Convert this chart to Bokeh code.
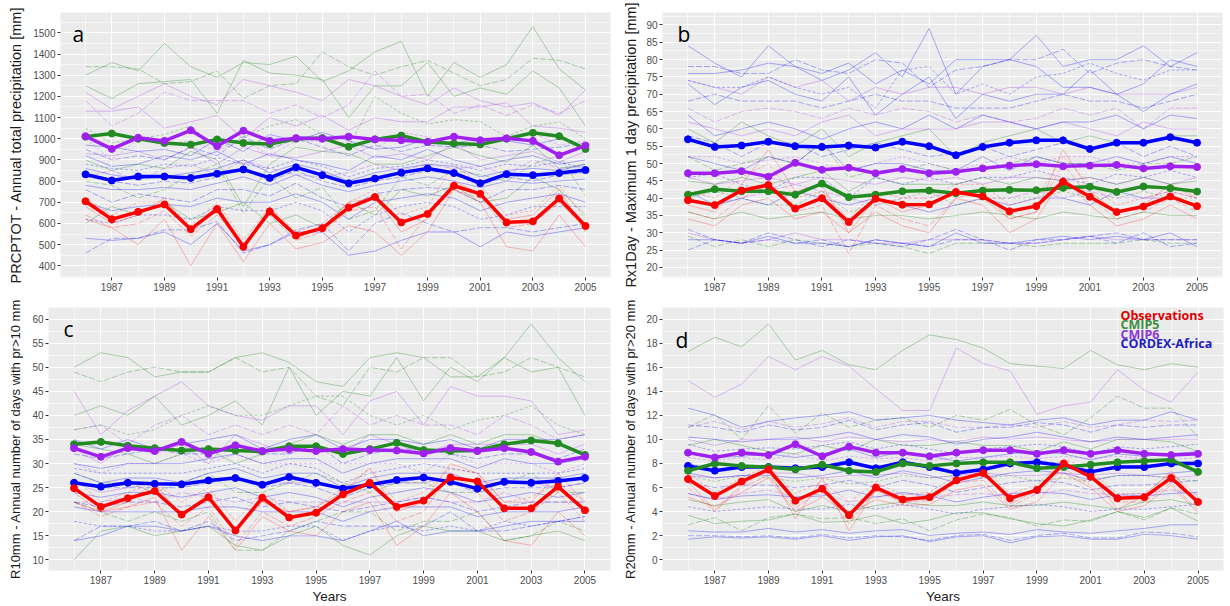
from bokeh.plotting import figure
from bokeh.models import FixedTicker, SingleIntervalTicker, Range1d, Label
from bokeh.layouts import column, row
from bokeh.embed import file_html
from bokeh.resources import INLINE

YEARS = list(range(1986, 2006))
X_TICKS = list(range(1987, 2006, 2))
X_MINOR = list(range(1986, 2007))

SERIES = ["Observations", "CMIP5", "CMIP6", "CORDEX-Africa"]

# ---------------- Panel a : PRCPTOT ----------------
A_OBS = [705, 620, 655, 690, 573, 668, 490, 657, 543, 578, 675, 725, 605, 645, 778, 740, 605, 610, 718, 588]
A_CMIP5 = [1010, 1025, 1000, 980, 972, 997, 980, 975, 1000, 1003, 962, 997, 1015, 985, 978, 973, 1000, 1028, 1012, 952]
A_CMIP6 = [1012, 952, 1005, 990, 1040, 965, 1038, 990, 1003, 1000, 1010, 997, 993, 985, 1010, 993, 1002, 990, 922, 968]
A_CORDEX = [832, 803, 822, 822, 815, 835, 855, 815, 865, 828, 790, 812, 840, 860, 838, 790, 833, 828, 838, 852]

A_OBS_M = [
    [680, 600, 640, 720, 560, 690, 470, 680, 530, 580, 700, 720, 560, 620, 800, 740, 620, 640, 760, 560],
    [640, 580, 600, 660, 540, 640, 500, 640, 520, 560, 660, 680, 480, 640, 760, 720, 580, 600, 700, 580],
    [620, 580, 500, 620, 400, 600, 420, 600, 480, 510, 590, 560, 450, 560, 760, 700, 490, 470, 640, 490],
    [720, 640, 700, 700, 590, 700, 520, 680, 560, 600, 700, 760, 640, 680, 880, 780, 640, 660, 780, 620],
]
A_CMIP5_M = [
    [1300, 1360, 1320, 1450, 1340, 1290, 1360, 1350, 1390, 1270, 1320, 1410, 1460, 1200, 1360, 1290, 1350, 1530, 1330, 1230],
    [1340, 1340, 1330, 1260, 1270, 1320, 1190, 1250, 1260, 1410, 1340, 1300, 1340, 1370, 1310, 1250, 1280, 1380, 1370, 1330],
    [1250, 1190, 1260, 1270, 1280, 1120, 1370, 1310, 1300, 1280, 1100, 1250, 1250, 1360, 1200, 1240, 1210, 1320, 1240, 1060],
    [1050, 980, 1000, 1020, 1060, 950, 1010, 1060, 1090, 1020, 960, 1200, 1120, 1070, 1090, 1080, 1010, 1060, 1080, 1000],
    [900, 850, 880, 860, 940, 900, 680, 880, 960, 940, 930, 880, 880, 920, 960, 920, 890, 970, 860, 880],
    [800, 780, 720, 760, 830, 880, 650, 820, 720, 770, 620, 660, 820, 780, 850, 830, 800, 880, 920, 730],
    [600, 680, 640, 700, 620, 650, 700, 600, 640, 580, 700, 640, 760, 730, 780, 700, 720, 820, 760, 640],
]
A_CMIP6_M = [
    [1220, 1140, 1200, 1260, 1200, 1160, 1280, 1250, 1220, 1180, 1280, 1250, 1200, 1160, 1240, 1180, 1150, 1170, 1110, 1230],
    [1180, 1060, 1120, 1220, 1180, 1180, 1180, 1120, 1160, 1100, 1160, 1320, 1200, 1210, 1120, 1160, 1110, 1160, 1120, 1180],
    [1130, 1130, 1150, 1050, 1080, 1110, 1000, 1100, 1060, 1110, 1040, 1100, 1080, 1080, 1150, 1150, 1170, 1060, 1050, 1030],
    [1000, 900, 1000, 970, 990, 940, 1000, 920, 990, 990, 980, 950, 1030, 1010, 960, 1000, 1010, 1030, 970, 990],
    [930, 920, 940, 900, 960, 880, 960, 920, 910, 940, 970, 910, 930, 900, 980, 900, 920, 940, 890, 940],
    [820, 850, 800, 860, 880, 830, 900, 860, 830, 820, 840, 880, 850, 880, 860, 870, 830, 900, 860, 870],
]
A_CORDEX_M = [
    [970, 960, 940, 950, 920, 1000, 940, 1020, 990, 1030, 990, 950, 960, 1000, 980, 1000, 990, 970, 1000, 960],
    [950, 900, 920, 900, 960, 920, 1010, 950, 1000, 960, 920, 970, 940, 970, 960, 970, 940, 950, 960, 980],
    [920, 870, 880, 920, 900, 940, 880, 930, 900, 880, 850, 920, 900, 950, 900, 870, 900, 920, 880, 900],
    [880, 860, 850, 880, 870, 910, 880, 860, 900, 870, 820, 860, 870, 900, 880, 850, 880, 870, 890, 860],
    [860, 830, 810, 820, 840, 860, 900, 840, 880, 850, 800, 840, 860, 880, 870, 820, 850, 860, 850, 880],
    [820, 800, 780, 800, 790, 820, 860, 800, 850, 800, 770, 800, 820, 850, 830, 780, 820, 800, 830, 840],
    [780, 760, 760, 770, 760, 790, 820, 780, 830, 780, 750, 780, 800, 820, 800, 770, 800, 790, 800, 810],
    [760, 700, 740, 720, 700, 760, 760, 730, 790, 720, 680, 740, 760, 770, 760, 700, 760, 760, 780, 760],
    [700, 660, 680, 690, 680, 720, 700, 700, 740, 700, 620, 700, 720, 740, 720, 660, 700, 720, 740, 700],
    [620, 600, 640, 640, 620, 680, 660, 660, 700, 660, 560, 640, 680, 700, 680, 620, 640, 680, 680, 680],
    [530, 520, 530, 560, 500, 600, 470, 500, 560, 560, 450, 470, 520, 560, 560, 490, 560, 540, 560, 580],
    [460, 530, 530, 570, 570, 610, 460, 500, 570, 600, 470, 600, 650, 600, 560, 580, 580, 560, 580, 600],
]

# ---------------- Panel b : Rx1Day ----------------
B_OBS = [39.4, 38, 42.2, 43.8, 37, 40, 33.1, 39.8, 38.1, 38.2, 41.8, 40.5, 36.2, 37.7, 44.8, 40.4, 36, 37.6, 40.5, 37.7]
B_CMIP5 = [41, 42.6, 42, 42, 41, 44.2, 40.3, 41, 42, 42.2, 41.4, 42.2, 42.4, 42.3, 43, 43.3, 41.8, 43.4, 42.9, 41.9]
B_CMIP6 = [47.2, 47.2, 47.8, 46.2, 50.2, 48.2, 48.8, 47.2, 48.4, 47.2, 47.6, 48.6, 49.4, 49.8, 49.2, 49.4, 49.6, 48.6, 49.2, 49]
B_CORDEX = [57, 54.8, 55.2, 56.3, 55, 54.8, 55.2, 54.6, 56.3, 55, 52.4, 54.8, 56, 56.7, 56.7, 54.2, 56, 56, 57.6, 56]

B_OBS_M = [
    [38, 36, 44, 54, 42, 44, 30, 40, 36, 38, 42, 40, 34, 36, 54, 42, 36, 38, 44, 40],
    [36, 34, 40, 44, 36, 38, 24, 38, 34, 32, 40, 42, 34, 36, 50, 40, 34, 36, 40, 36],
    [34, 32, 38, 40, 34, 36, 30, 36, 32, 30, 40, 38, 30, 34, 46, 38, 32, 34, 38, 34],
    [42, 40, 46, 50, 40, 42, 34, 42, 40, 40, 44, 44, 38, 40, 52, 44, 38, 40, 42, 40],
]
B_CMIP5_M = [
    [60, 56, 62, 58, 55, 60, 52, 56, 58, 60, 52, 56, 58, 60, 56, 58, 56, 56, 58, 58],
    [52, 48, 50, 52, 50, 56, 46, 48, 48, 50, 48, 48, 50, 52, 50, 50, 48, 50, 50, 52],
    [45, 44, 46, 44, 46, 48, 42, 46, 44, 44, 44, 46, 44, 46, 45, 46, 44, 46, 44, 45],
    [40, 42, 40, 38, 38, 42, 36, 38, 40, 42, 38, 40, 40, 40, 42, 40, 40, 42, 40, 40],
    [36, 34, 36, 34, 35, 36, 34, 35, 35, 34, 35, 36, 35, 34, 36, 35, 34, 36, 35, 35],
    [29, 26, 28, 26, 28, 27, 26, 27, 26, 24, 27, 27, 27, 26, 27, 27, 27, 28, 27, 27],
]
B_CMIP6_M = [
    [74, 72, 70, 75, 72, 74, 68, 72, 70, 72, 72, 70, 72, 72, 70, 72, 70, 70, 70, 72],
    [66, 62, 65, 66, 65, 63, 66, 64, 66, 65, 62, 64, 62, 63, 66, 64, 66, 60, 66, 66],
    [62, 60, 58, 60, 58, 62, 64, 58, 60, 60, 60, 62, 62, 60, 62, 60, 58, 62, 60, 60],
    [52, 52, 50, 51, 52, 50, 48, 50, 52, 50, 48, 50, 52, 50, 52, 52, 50, 50, 52, 52],
    [46, 44, 45, 46, 44, 46, 45, 44, 46, 45, 46, 44, 46, 46, 45, 46, 44, 46, 44, 46],
    [40, 38, 40, 42, 44, 42, 40, 38, 40, 40, 42, 40, 40, 42, 40, 42, 40, 40, 42, 40],
    [30, 28, 27, 28, 30, 28, 28, 27, 27, 28, 28, 28, 27, 27, 28, 29, 28, 28, 28, 28],
]
B_CORDEX_M = [
    [84, 79, 75, 84, 78, 74, 77, 82, 75, 89, 70, 78, 80, 87, 78, 80, 80, 84, 78, 82],
    [78, 78, 76, 76, 80, 77, 76, 80, 79, 72, 77, 78, 80, 80, 83, 76, 79, 80, 78, 77],
    [76, 76, 77, 79, 78, 76, 79, 73, 77, 73, 80, 80, 80, 78, 72, 72, 70, 73, 80, 78],
    [74, 72, 72, 75, 72, 70, 72, 66, 77, 78, 70, 73, 70, 75, 76, 79, 76, 74, 77, 77],
    [73, 67, 72, 74, 70, 68, 75, 64, 70, 75, 63, 70, 68, 70, 70, 77, 70, 65, 70, 73],
    [68, 70, 68, 68, 68, 66, 68, 70, 68, 68, 66, 66, 66, 68, 70, 68, 68, 66, 68, 70],
    [64, 58, 60, 62, 60, 57, 60, 62, 60, 64, 60, 64, 62, 60, 62, 62, 64, 60, 64, 63],
    [58, 56, 52, 56, 56, 52, 54, 56, 54, 52, 53, 55, 52, 54, 56, 54, 56, 52, 55, 52],
    [52, 50, 48, 52, 50, 56, 48, 50, 50, 48, 48, 52, 48, 52, 50, 50, 52, 50, 52, 50],
    [46, 47, 44, 42, 46, 46, 40, 46, 44, 46, 44, 46, 46, 48, 46, 44, 47, 46, 48, 46],
    [42, 38, 40, 38, 42, 40, 38, 40, 38, 36, 38, 40, 38, 40, 40, 38, 42, 40, 40, 38],
    [31, 28, 27, 28, 27, 28, 26, 28, 27, 26, 28, 28, 27, 27, 28, 29, 30, 28, 28, 28],
    [28, 28, 27, 29, 27, 27, 26, 28, 27, 26, 30, 27, 27, 28, 29, 28, 29, 28, 30, 26],
    [25, 28, 27, 30, 28, 26, 28, 27, 26, 28, 31, 28, 25, 28, 28, 29, 27, 30, 26, 27],
]

# ---------------- Panel c : R10mm ----------------
C_OBS = [24.9, 21, 22.8, 24.3, 19.4, 23, 16.1, 22.9, 18.8, 19.8, 23.6, 26, 21, 22.3, 27.1, 26.3, 20.7, 20.7, 25.2, 20.3]
C_CMIP5 = [34, 34.5, 33.7, 33.2, 32.7, 33, 32.7, 32.5, 33.6, 33.6, 32, 33, 34.3, 32.8, 32.6, 32.7, 34, 34.8, 34.2, 31.8]
C_CMIP6 = [33.2, 31.4, 33.2, 32.6, 34.5, 32, 33.8, 32.6, 33, 32.6, 33, 32.8, 32.7, 32.1, 33.2, 32.6, 33.2, 32.4, 30.4, 31.4]
C_CORDEX = [26, 25.2, 26, 25.8, 25.7, 26.5, 27, 25.6, 27.2, 26, 24.8, 25.6, 26.6, 27.1, 26.2, 24.8, 26.2, 26, 26.4, 27]

C_OBS_M = [
    [24, 20, 22, 26, 19, 24, 16, 22, 20, 21, 24, 29, 20, 22, 30, 28, 22, 22, 28, 22],
    [22, 19, 21, 22, 17, 21, 13, 20, 17, 19, 22, 24, 18, 20, 28, 24, 18, 20, 24, 18],
    [22, 20, 21, 23, 12, 19, 12, 19, 16, 15, 20, 22, 13, 17, 24, 20, 14, 13, 20, 15],
    [27, 22, 24, 26, 22, 25, 18, 24, 20, 21, 25, 29, 22, 24, 29, 28, 22, 23, 26, 22],
]
C_CMIP5_M = [
    [50, 53, 52, 48, 49, 49, 52, 53, 51, 47, 46, 52, 53, 52, 48, 48, 52, 59, 52, 47],
    [49, 47, 49, 50, 49, 49, 52, 49, 50, 44, 42, 50, 49, 52, 52, 48, 49, 52, 50, 48],
    [40, 42, 40, 44, 38, 40, 43, 38, 50, 40, 45, 44, 52, 43, 50, 47, 52, 49, 50, 40],
    [37, 38, 36, 37, 40, 42, 40, 40, 42, 44, 44, 40, 38, 40, 37, 39, 40, 42, 38, 36],
    [34, 33, 32, 30, 32, 33, 30, 32, 34, 36, 34, 36, 36, 34, 36, 34, 36, 36, 34, 32],
    [28, 26, 26, 24, 26, 28, 24, 24, 26, 28, 26, 24, 26, 26, 24, 24, 26, 28, 24, 24],
    [10, 16, 17, 15, 16, 17, 13, 12, 15, 17, 13, 11, 15, 17, 16, 16, 14, 15, 16, 14],
    [22, 20, 18, 20, 18, 20, 12, 12, 16, 18, 20, 20, 16, 18, 18, 20, 14, 15, 18, 16],
]
C_CMIP6_M = [
    [45, 36, 41, 44, 47, 42, 40, 39, 42, 42, 36, 43, 45, 38, 46, 44, 44, 43, 36, 37],
    [37, 38, 34, 38, 40, 36, 38, 36, 38, 36, 42, 38, 40, 38, 38, 36, 40, 38, 35, 36],
    [33, 30, 34, 32, 34, 30, 36, 34, 32, 34, 32, 36, 34, 32, 34, 34, 34, 34, 32, 34],
    [30, 28, 30, 30, 32, 30, 32, 30, 30, 30, 30, 30, 30, 28, 32, 30, 30, 30, 28, 30],
    [26, 24, 25, 26, 26, 26, 27, 26, 26, 26, 25, 26, 26, 26, 27, 26, 26, 26, 25, 26],
    [22, 22, 23, 22, 24, 23, 22, 23, 22, 22, 22, 22, 22, 23, 22, 22, 24, 22, 22, 22],
]
C_CORDEX_M = [
    [35, 33, 35, 33, 34, 35, 36, 33, 35, 36, 33, 35, 35, 34, 35, 33, 35, 35, 35, 36],
    [32, 31, 32, 33, 32, 32, 33, 32, 32, 34, 30, 32, 33, 33, 32, 31, 32, 32, 31, 33],
    [30, 29, 30, 30, 30, 31, 32, 30, 31, 31, 28, 30, 31, 31, 31, 29, 31, 30, 30, 31],
    [29, 28, 28, 28, 28, 29, 30, 28, 30, 29, 26, 28, 29, 30, 29, 28, 28, 28, 28, 29],
    [28, 26, 27, 27, 26, 28, 29, 27, 28, 28, 25, 27, 28, 28, 28, 26, 27, 27, 27, 28],
    [26, 25, 25, 25, 25, 26, 27, 25, 26, 25, 23, 25, 26, 27, 26, 24, 25, 25, 25, 26],
    [24, 23, 24, 24, 23, 24, 25, 23, 24, 23, 21, 23, 24, 25, 24, 22, 23, 24, 23, 24],
    [22, 21, 22, 22, 21, 22, 23, 21, 22, 21, 20, 21, 22, 23, 22, 20, 21, 22, 22, 22],
    [21, 20, 20, 20, 20, 21, 21, 20, 20, 20, 18, 20, 21, 21, 21, 19, 20, 20, 20, 21],
    [18, 17, 17, 16, 16, 17, 16, 16, 17, 17, 14, 16, 17, 16, 17, 16, 18, 17, 18, 19],
    [14, 15, 17, 17, 16, 17, 15, 14, 15, 15, 14, 16, 18, 15, 16, 16, 17, 18, 18, 18],
    [14, 17, 17, 18, 16, 18, 14, 15, 16, 18, 17, 17, 17, 17, 20, 16, 16, 17, 18, 19],
]

# ---------------- Panel d : R20mm ----------------
D_OBS = [6.7, 5.3, 6.5, 7.5, 4.9, 5.9, 3.7, 6.0, 5.0, 5.2, 6.6, 7.2, 5.1, 5.8, 8.0, 6.9, 5.1, 5.2, 6.8, 4.8]
D_CMIP5 = [7.4, 8.0, 7.8, 7.7, 7.5, 7.9, 7.4, 7.3, 8.0, 7.8, 8.0, 8.1, 8.1, 7.6, 7.7, 7.9, 8.1, 8.2, 8.3, 7.3]
D_CMIP6 = [8.9, 8.5, 8.9, 8.7, 9.6, 8.6, 9.4, 8.9, 8.9, 8.6, 8.9, 9.1, 9.1, 8.8, 9.1, 8.8, 9.1, 8.8, 8.7, 8.8]
D_CORDEX = [7.8, 7.4, 7.7, 7.7, 7.6, 7.7, 8.1, 7.6, 8.1, 7.7, 7.2, 7.5, 8.0, 8.1, 7.8, 7.3, 7.7, 7.7, 8.0, 8.0]

D_OBS_M = [
    [6.5, 4.1, 6.2, 7.5, 3.4, 6.8, 2.4, 5.8, 4.7, 5.4, 6.4, 7.5, 4.6, 5.8, 8.2, 7.0, 4.2, 5.3, 7.4, 4.5],
    [6.0, 4.0, 6.0, 7.0, 4.3, 5.9, 3.0, 5.8, 4.8, 4.9, 6.4, 6.6, 4.4, 5.5, 7.6, 6.2, 4.8, 4.8, 6.4, 4.1],
    [5.2, 4.4, 5.6, 6.8, 4.0, 5.2, 3.8, 5.0, 4.5, 4.6, 5.8, 6.2, 4.2, 4.8, 7.2, 6.0, 4.0, 4.5, 6.2, 3.9],
    [7.2, 5.6, 6.8, 7.8, 5.5, 6.5, 4.8, 6.4, 5.4, 5.6, 7.0, 7.6, 5.5, 6.2, 8.4, 7.4, 5.5, 5.5, 7.2, 5.2],
]
D_CMIP5_M = [
    [17.3, 18.5, 17.7, 19.6, 16.6, 17.4, 16.2, 15.8, 17.4, 18.7, 18.3, 17.6, 16.3, 16.1, 15.9, 17.4, 16.2, 15.8, 16.3, 16.0],
    [11.0, 12.1, 10.0, 12.8, 10.5, 12.2, 11.0, 11.6, 11.8, 11.0, 12.0, 11.6, 12.5, 11.2, 10.4, 11.8, 13.6, 12.6, 12.6, 10.2],
    [9.5, 10.0, 9.5, 9.0, 8.8, 9.5, 9.0, 10.0, 9.5, 9.5, 9.8, 9.5, 9.5, 9.0, 9.8, 9.2, 10.0, 10.0, 9.8, 9.0],
    [7.0, 6.5, 7.0, 6.8, 6.5, 6.8, 6.3, 6.5, 7.0, 6.8, 7.0, 6.8, 7.0, 6.5, 6.8, 6.5, 7.0, 7.0, 6.8, 6.5],
    [5.0, 4.5, 4.8, 5.0, 4.0, 4.5, 4.0, 4.5, 4.8, 4.5, 4.5, 4.8, 4.5, 4.5, 4.8, 4.5, 4.2, 4.8, 5.0, 4.5],
    [2.9, 3.5, 2.4, 3.5, 3.8, 3.4, 3.5, 3.0, 3.4, 2.4, 3.3, 3.8, 3.5, 2.8, 3.3, 3.2, 4.0, 3.3, 4.3, 3.8],
    [3.7, 3.0, 3.2, 3.3, 3.8, 3.1, 3.2, 3.7, 3.0, 3.3, 3.9, 3.9, 3.4, 3.0, 2.8, 3.3, 4.0, 3.5, 4.3, 3.2],
]
D_CMIP6_M = [
    [14.9, 13.5, 14.6, 16.9, 15.8, 16.9, 16.1, 14.2, 12.4, 12.4, 17.6, 16.3, 15.7, 12.1, 12.8, 13.1, 15.8, 14.1, 13.1, 15.6],
    [11.0, 11.5, 10.8, 11.5, 11.0, 11.3, 11.8, 11.0, 11.5, 11.5, 11.0, 11.0, 11.2, 11.0, 11.5, 11.0, 11.2, 11.6, 11.5, 11.6],
    [10.0, 9.5, 10.0, 10.0, 10.2, 9.8, 10.2, 10.0, 9.8, 10.0, 9.8, 10.2, 10.0, 10.2, 10.0, 9.8, 10.0, 10.0, 10.0, 10.0],
    [8.5, 8.2, 8.5, 8.3, 8.8, 8.2, 8.6, 8.4, 8.5, 8.2, 8.5, 8.5, 8.6, 8.4, 8.6, 8.4, 8.6, 8.4, 8.3, 8.5],
    [7.0, 6.8, 7.0, 7.2, 7.2, 6.8, 7.0, 7.0, 7.2, 6.8, 7.0, 7.2, 7.0, 7.0, 7.2, 7.0, 7.2, 7.0, 6.8, 7.0],
    [5.5, 5.0, 5.5, 5.8, 5.2, 5.5, 4.8, 5.2, 5.5, 5.2, 5.4, 5.5, 5.3, 5.5, 5.8, 5.5, 5.4, 5.5, 5.8, 5.4],
]
D_CORDEX_M = [
    [12.6, 12.0, 11.0, 11.5, 11.8, 12.0, 12.3, 11.6, 11.8, 12.0, 11.6, 11.4, 11.2, 11.6, 11.8, 11.2, 11.6, 11.6, 12.3, 11.6],
    [11.2, 11.0, 10.6, 11.2, 10.8, 11.0, 11.6, 10.8, 11.2, 11.4, 10.6, 11.0, 11.0, 11.4, 11.2, 10.6, 11.2, 11.0, 11.2, 11.2],
    [10.2, 10.0, 9.8, 10.0, 10.0, 10.2, 10.6, 10.0, 10.4, 10.2, 9.6, 10.0, 10.2, 10.6, 10.2, 9.8, 10.2, 10.0, 10.2, 10.4],
    [9.6, 9.0, 9.2, 9.3, 9.2, 9.5, 9.8, 9.2, 9.6, 9.2, 8.8, 9.2, 9.4, 9.6, 9.4, 8.8, 9.4, 9.2, 9.4, 9.6],
    [9.0, 8.5, 8.6, 8.8, 8.5, 8.8, 9.2, 8.5, 9.0, 8.6, 8.2, 8.5, 8.8, 9.0, 8.8, 8.3, 8.8, 8.6, 8.8, 9.0],
    [8.0, 7.5, 7.8, 7.8, 7.6, 7.8, 8.3, 7.6, 8.2, 7.8, 7.2, 7.6, 8.0, 8.2, 8.0, 7.4, 7.8, 7.8, 8.0, 8.2],
    [7.2, 6.8, 7.0, 7.0, 6.8, 7.0, 7.4, 6.8, 7.4, 7.0, 6.4, 6.8, 7.2, 7.4, 7.2, 6.6, 7.0, 7.0, 7.2, 7.4],
    [6.4, 6.0, 6.2, 6.2, 6.0, 6.2, 6.6, 6.0, 6.6, 6.2, 5.6, 6.0, 6.4, 6.6, 6.4, 5.8, 6.2, 6.2, 6.4, 6.6],
    [5.5, 5.0, 5.3, 5.4, 5.2, 5.3, 5.8, 5.2, 5.6, 5.3, 4.8, 5.2, 5.5, 5.6, 5.5, 5.0, 5.4, 5.3, 5.5, 5.6],
    [4.4, 4.0, 4.2, 4.4, 4.2, 4.2, 4.6, 4.2, 4.6, 4.2, 3.8, 4.2, 4.4, 4.6, 4.4, 4.0, 4.2, 4.2, 4.4, 4.6],
    [2.4, 2.3, 2.3, 2.6, 2.3, 2.5, 2.2, 2.4, 2.5, 2.0, 2.2, 2.3, 2.1, 2.5, 2.3, 2.2, 2.4, 2.6, 2.9, 2.9],
    [2.0, 2.0, 1.9, 2.0, 1.8, 2.1, 1.8, 2.0, 1.9, 1.6, 2.0, 2.1, 1.6, 2.0, 2.2, 1.8, 1.8, 2.3, 2.2, 1.9],
    [1.7, 1.9, 1.8, 1.9, 1.7, 2.0, 1.6, 1.9, 2.0, 1.5, 1.9, 2.0, 1.4, 1.9, 2.0, 1.7, 1.7, 2.1, 2.0, 1.7],
]

Y_TITLES = [
    "PRCPTOT - Annual total precipitation [mm]",
    "Rx1Day - Maximum 1 day precipitation [mm]",
    "R10mm - Annual number of days with pr>10 mm",
    "R20mm - Annual number of days with pr>20 mm",
]
LETTERS = ["a", "b", "c", "d"]

# ---------------- styling ----------------
COL = {"Observations": "#FF0000", "CMIP5": "#228B22", "CMIP6": "#A020F0", "CORDEX-Africa": "#0000FF"}
THIN_ALPHA = {"Observations": 0.38, "CMIP5": 0.5, "CMIP6": 0.4, "CORDEX-Africa": 0.45}
LEG_COL = {"Observations": "#E00000", "CMIP5": "#3F8F3F", "CMIP6": "#8A35D8", "CORDEX-Africa": "#1E1EC0"}
DASHES = ["solid", "6 2", "solid", "3 2", "solid", "6 2"]
FONT = "Liberation Sans"


def make_panel(w, h, borders, yrange, yint, ytitle, members, means, letter, letter_off,
               xlabel=None, legend=False, ylab_standoff=5, ytitle_size="14.5px"):
    bl, br, bt, bb = borders
    p = figure(width=w, height=h, x_range=Range1d(1985.05, 2005.95), y_range=Range1d(*yrange),
               output_backend="svg", toolbar_location=None,
               min_border_left=bl, min_border_right=br, min_border_top=bt, min_border_bottom=bb)
    p.background_fill_color = "#EBEBEB"
    p.border_fill_color = "white"
    p.outline_line_color = None
    p.xaxis.ticker = FixedTicker(ticks=X_TICKS, minor_ticks=X_MINOR)
    p.yaxis.ticker = SingleIntervalTicker(interval=yint, num_minor_ticks=2)
    for g in p.grid:
        g.grid_line_color = "white"
        g.grid_line_width = 1.1
        g.minor_grid_line_color = "white"
        g.minor_grid_line_width = 0.55
    for ax in p.axis:
        ax.axis_line_color = None
        ax.major_tick_line_color = "#333333"
        ax.major_tick_out = 3
        ax.major_tick_in = 0
        ax.minor_tick_line_color = None
        ax.major_label_text_font = FONT
        ax.major_label_text_font_size = "10px"
        ax.major_label_text_color = "#4D4D4D"
        ax.major_label_standoff = 1
        ax.axis_label_text_font = FONT
        ax.axis_label_text_font_style = "normal"
        ax.axis_label_text_color = "#1A1A1A"
    p.yaxis.axis_label = ytitle
    p.yaxis.axis_label_text_font_size = ytitle_size
    p.yaxis.axis_label_standoff = ylab_standoff
    if xlabel:
        p.xaxis.axis_label = xlabel
        p.xaxis.axis_label_text_font_size = "13.5px"
        p.xaxis.axis_label_standoff = 2

    # ensemble members (thin lines)
    for name in ["CMIP5", "CMIP6", "CORDEX-Africa", "Observations"]:
        for i, vals in enumerate(members[name]):
            p.line(YEARS, vals, line_color=COL[name], line_alpha=THIN_ALPHA[name],
                   line_width=0.7, line_dash=DASHES[i % len(DASHES)])
    # ensemble means (thick lines with points)
    for name in ["CORDEX-Africa", "CMIP5", "CMIP6", "Observations"]:
        p.line(YEARS, means[name], line_color=COL[name], line_width=3.5)
        p.scatter(YEARS, means[name], size=7, color=COL[name])

    dx, dy = letter_off
    p.add_layout(Label(x=1985.05, y=yrange[1], x_offset=dx, y_offset=-dy, text=letter,
                       text_font="Open Sans", text_font_size="21px", text_color="black",
                       text_baseline="alphabetic", text_align="left"))
    if legend:
        for k, name in enumerate(SERIES):
            p.add_layout(Label(x=1985.05, y=yrange[1], x_offset=458, y_offset=-(7.5 + 9.5 * k),
                               text=name, text_font="Open Sans", text_font_style="bold",
                               text_font_size="12.5px", text_color=LEG_COL[name],
                               text_baseline="middle", text_align="left"))
    return p


def pack(obs, c5, c6, cx):
    return {"Observations": obs, "CMIP5": c5, "CMIP6": c6, "CORDEX-Africa": cx}


pa = make_panel(612, 300, (60, 2, 12, 23), (345, 1596), 100, Y_TITLES[0],
                pack(A_OBS_M, A_CMIP5_M, A_CMIP6_M, A_CORDEX_M), pack(A_OBS, A_CMIP5, A_CMIP6, A_CORDEX),
                LETTERS[0], (12, 21), ylab_standoff=6)
pb = make_panel(618, 300, (50, 8, 12, 23), (17.1, 93.6), 5, Y_TITLES[1],
                pack(B_OBS_M, B_CMIP5_M, B_CMIP6_M, B_CORDEX_M), pack(B_OBS, B_CMIP5, B_CMIP6, B_CORDEX),
                LETTERS[1], (15, 21), ylab_standoff=4)
pc = make_panel(612, 306, (48, 2, 7, 34), (7.8, 62.4), 5, Y_TITLES[2],
                pack(C_OBS_M, C_CMIP5_M, C_CMIP6_M, C_CORDEX_M), pack(C_OBS, C_CMIP5, C_CMIP6, C_CORDEX),
                LETTERS[2], (15, 21), xlabel="Years", ylab_standoff=6, ytitle_size="13px")
pd = make_panel(618, 306, (50, 7, 7, 34), (-0.9, 20.97), 2, Y_TITLES[3],
                pack(D_OBS_M, D_CMIP5_M, D_CMIP6_M, D_CORDEX_M), pack(D_OBS, D_CMIP5, D_CMIP6, D_CORDEX),
                LETTERS[3], (13, 32), xlabel="Years", legend=True, ylab_standoff=5, ytitle_size="13px")

layout = column(row(pa, pb), row(pc, pd))
open("out.html", "w").write(file_html(layout, INLINE))
